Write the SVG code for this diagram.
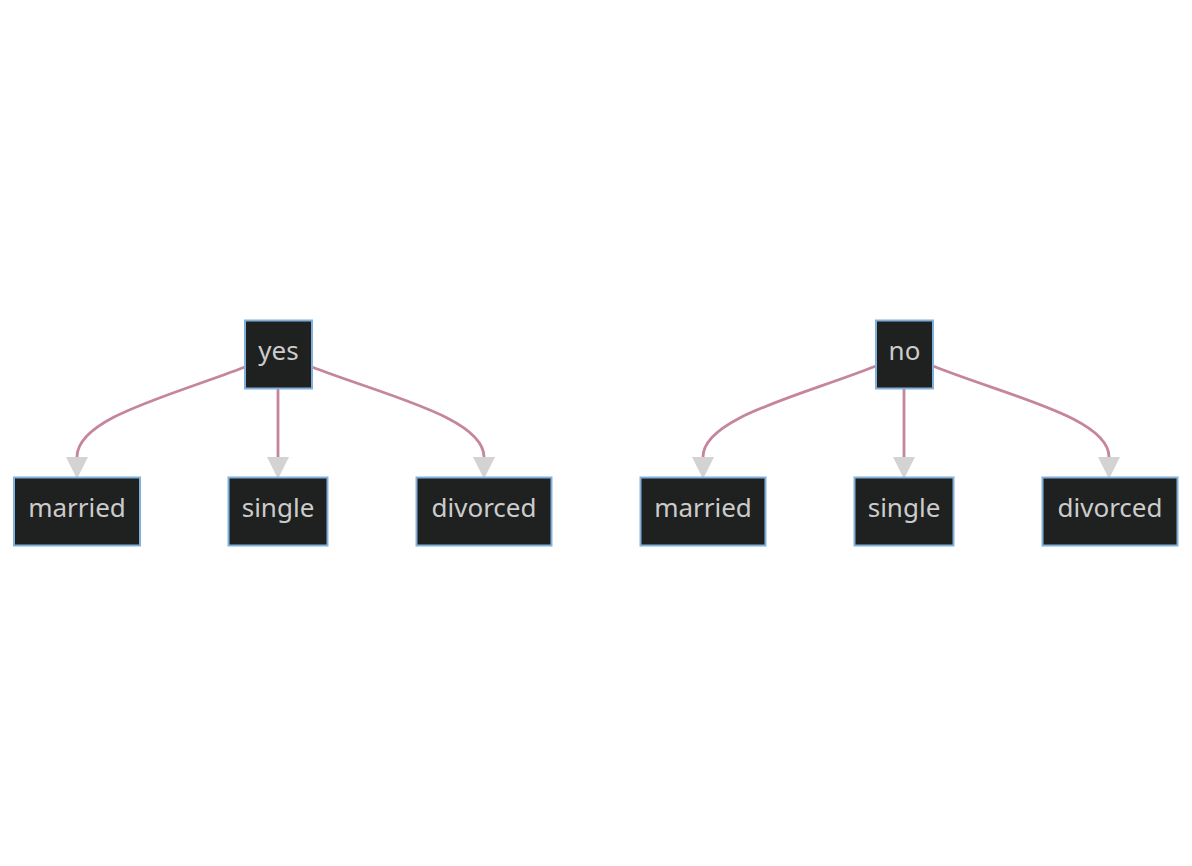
<svg xmlns="http://www.w3.org/2000/svg" width="1192" height="866" viewBox="0 0 1192 866">
<style>
.node rect{fill:#1f2020;stroke:#81b1db;stroke-width:2}
.node text{fill:#cccccc;font-family:"Noto Sans","Open Sans",sans-serif;font-size:26px;text-anchor:middle;dominant-baseline:central}
.edge{fill:none;stroke:#c6859f;stroke-width:2.8}
</style>
<defs>
<marker id="arrow" markerUnits="userSpaceOnUse" markerWidth="22" markerHeight="22" refX="0" refY="10" orient="auto" viewBox="0 0 20 20">
<path d="M0,0 L20,10 L0,20 z" fill="#d3d3d3"/>
</marker>
</defs>
<rect width="1192" height="866" fill="#ffffff"/>
<g id="connectors">
<path class="edge" d="M245,367 C170,396 77,418 77,457" marker-end="url(#arrow)"/>
<path class="edge" d="M278,389 L278,457" marker-end="url(#arrow)"/>
<path class="edge" d="M312,367 C387,396 484,418 484,457" marker-end="url(#arrow)"/>
<path class="edge" d="M876,366 C800,396 703,418 703,457" marker-end="url(#arrow)"/>
<path class="edge" d="M904,389 L904,457" marker-end="url(#arrow)"/>
<path class="edge" d="M933,366 C1008,396 1109,418 1109,457" marker-end="url(#arrow)"/>
</g>
<g id="yes" class="node"><rect x="245" y="320.5" width="67" height="68"/><text x="278.5" y="350">yes</text></g>
<g id="no" class="node"><rect x="876" y="320.5" width="57" height="68"/><text x="904.5" y="350">no</text></g>
<g id="married1" class="node"><rect x="14" y="477.5" width="126" height="68"/><text x="77" y="507">married</text></g>
<g id="single1" class="node"><rect x="228.5" y="477.5" width="99" height="68"/><text x="278" y="507">single</text></g>
<g id="divorced1" class="node"><rect x="416.5" y="477.5" width="135" height="68"/><text x="484" y="507">divorced</text></g>
<g id="married2" class="node"><rect x="640.5" y="477.5" width="125" height="68"/><text x="703" y="507">married</text></g>
<g id="single2" class="node"><rect x="854.5" y="477.5" width="99" height="68"/><text x="904" y="507">single</text></g>
<g id="divorced2" class="node"><rect x="1042.5" y="477.5" width="135" height="68"/><text x="1110" y="507">divorced</text></g>
</svg>
